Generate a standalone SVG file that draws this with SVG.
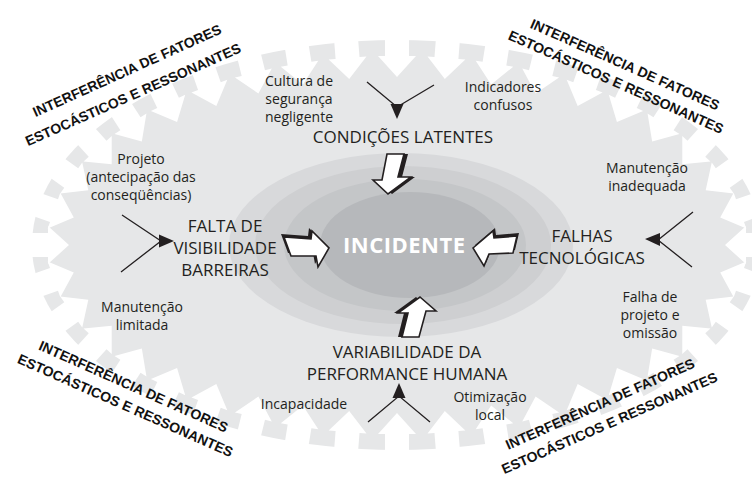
<svg xmlns="http://www.w3.org/2000/svg" xmlns:xlink="http://www.w3.org/1999/xlink" width="752" height="479" viewBox="0 0 752 479">
<defs>
<style>
.lbl{font-family:"Open Sans","DejaVu Sans",sans-serif;font-size:14px;fill:#231f20;text-anchor:middle}
.main{font-family:"Open Sans","DejaVu Sans",sans-serif;font-size:17px;font-weight:400;fill:#231f20;text-anchor:middle}
.corner{font-family:"Liberation Sans",Arial,sans-serif;font-size:14px;font-weight:700;fill:#111;text-anchor:middle}
.arm{stroke:#231f20;stroke-width:1.3;fill:none}
.head{fill:#231f20}
.blk{fill:#fff;stroke:#231f20;stroke-width:1.6;stroke-linejoin:miter}
.shd{fill:#231f20}
</style>
<path id="notch" d="M-12,-30 H12 V16 H19 L0,37 L-19,16 H-12 Z" fill="#fff"/>
</defs>
<rect width="752" height="479" fill="#fff"/>
<g id="gear">
<ellipse cx="397" cy="245" rx="365" ry="205" fill="#e6e7e8"/>
<use xlink:href="#notch" transform="translate(762,245) rotate(90)"/>
<use xlink:href="#notch" transform="translate(755.1,284.7) rotate(109.4)"/>
<use xlink:href="#notch" transform="translate(735.8,321.3) rotate(125.5)"/>
<use xlink:href="#notch" transform="translate(707.1,353.1) rotate(137.9)"/>
<use xlink:href="#notch" transform="translate(672.2,379.7) rotate(147.2)"/>
<use xlink:href="#notch" transform="translate(632.8,401.5) rotate(154.6)"/>
<use xlink:href="#notch" transform="translate(589.9,419) rotate(160.7)"/>
<use xlink:href="#notch" transform="translate(544.5,432.5) rotate(166.1)"/>
<use xlink:href="#notch" transform="translate(497,442.1) rotate(170.9)"/>
<use xlink:href="#notch" transform="translate(447.7,448) rotate(175.5)"/>
<use xlink:href="#notch" transform="translate(397,450) rotate(180)"/>
<use xlink:href="#notch" transform="translate(346.3,448) rotate(184.5)"/>
<use xlink:href="#notch" transform="translate(297,442.1) rotate(189.1)"/>
<use xlink:href="#notch" transform="translate(249.5,432.5) rotate(193.9)"/>
<use xlink:href="#notch" transform="translate(204.1,419) rotate(199.3)"/>
<use xlink:href="#notch" transform="translate(161.2,401.5) rotate(205.4)"/>
<use xlink:href="#notch" transform="translate(121.8,379.7) rotate(212.8)"/>
<use xlink:href="#notch" transform="translate(86.9,353.1) rotate(222.1)"/>
<use xlink:href="#notch" transform="translate(58.2,321.3) rotate(234.5)"/>
<use xlink:href="#notch" transform="translate(38.9,284.7) rotate(250.6)"/>
<use xlink:href="#notch" transform="translate(32,245) rotate(270)"/>
<use xlink:href="#notch" transform="translate(38.9,205.3) rotate(289.4)"/>
<use xlink:href="#notch" transform="translate(58.2,168.7) rotate(305.5)"/>
<use xlink:href="#notch" transform="translate(86.9,136.9) rotate(317.9)"/>
<use xlink:href="#notch" transform="translate(121.8,110.3) rotate(327.2)"/>
<use xlink:href="#notch" transform="translate(161.2,88.5) rotate(334.6)"/>
<use xlink:href="#notch" transform="translate(204.1,71) rotate(340.7)"/>
<use xlink:href="#notch" transform="translate(249.5,57.5) rotate(346.1)"/>
<use xlink:href="#notch" transform="translate(297,47.9) rotate(350.9)"/>
<use xlink:href="#notch" transform="translate(346.3,42) rotate(355.5)"/>
<use xlink:href="#notch" transform="translate(397,40) rotate(0)"/>
<use xlink:href="#notch" transform="translate(447.7,42) rotate(4.5)"/>
<use xlink:href="#notch" transform="translate(497,47.9) rotate(9.1)"/>
<use xlink:href="#notch" transform="translate(544.5,57.5) rotate(13.9)"/>
<use xlink:href="#notch" transform="translate(589.9,71) rotate(19.3)"/>
<use xlink:href="#notch" transform="translate(632.8,88.5) rotate(25.4)"/>
<use xlink:href="#notch" transform="translate(672.2,110.3) rotate(32.8)"/>
<use xlink:href="#notch" transform="translate(707.1,136.9) rotate(42.1)"/>
<use xlink:href="#notch" transform="translate(735.8,168.7) rotate(54.5)"/>
<use xlink:href="#notch" transform="translate(755.1,205.3) rotate(70.6)"/>
</g>
<g id="incidente">
<ellipse cx="401" cy="245" rx="172" ry="92" fill="#d8d9db"/>
<ellipse cx="403" cy="245" rx="148" ry="79" fill="#cecfd1"/>
<ellipse cx="405" cy="245" rx="121" ry="66" fill="#c4c6c8"/>
<ellipse cx="410" cy="245" rx="90" ry="53" fill="#b6b8bb"/>
<text x="404" y="253" textLength="122" style="font-family:'Open Sans','DejaVu Sans',sans-serif;font-size:22px;font-weight:700;fill:#fff;text-anchor:middle">INCIDENTE</text>
</g>
<g id="connectors">
<path class="arm" d="M367,82 L397,107 L434,85"/>
<polygon class="head" points="390.5,104 403.5,104 397,119"/>
<path class="arm" d="M122,215 L161,241 L121,272"/>
<polygon class="head" points="159,234.5 159,247.5 174,241"/>
<path class="arm" d="M693,212 L658,240 L692,267"/>
<polygon class="head" points="660,233 660,246 645,239"/>
<path class="arm" d="M368,422 L399,396 L430,422"/>
<polygon class="head" points="392.5,398 405.5,398 399,383"/>
<polygon class="shd" transform="translate(4,0)" points="387,154 404,154 398,177 411,177 388,194 373,180 382,180"/>
<polygon class="blk" points="387,154 404,154 398,177 411,177 388,194 373,180 382,180"/>
<polygon class="shd" transform="translate(-3,-3)" points="284,237 311,239 312,231 329,248 318,267 316,256 291,256"/>
<polygon class="blk" points="284,237 311,239 312,231 329,248 318,267 316,256 291,256"/>
<polygon class="shd" transform="translate(2,-3)" points="473,248 493,231 494,238 517,236 513,253 489,254 484,266"/>
<polygon class="blk" points="473,248 493,231 494,238 517,236 513,253 489,254 484,266"/>
<polygon class="shd" transform="translate(-4,0)" points="420,297 436,311 426,311 419,337 402,337 408,313 398,313"/>
<polygon class="blk" points="420,297 436,311 426,311 419,337 402,337 408,313 398,313"/>
</g>
<g id="condicoes">
<text class="main" x="403" y="143">CONDIÇÕES LATENTES</text>
</g>
<g id="falta">
<text class="main" x="225" y="232">FALTA DE</text>
<text class="main" x="225" y="254">VISIBILIDADE</text>
<text class="main" x="225" y="276">BARREIRAS</text>
</g>
<g id="falhas">
<text class="main" x="582" y="242">FALHAS</text>
<text class="main" x="582" y="264">TECNOLÓGICAS</text>
</g>
<g id="variabilidade">
<text class="main" x="407" y="358">VARIABILIDADE DA</text>
<text class="main" x="407" y="380">PERFORMANCE HUMANA</text>
</g>
<g id="cultura">
<text class="lbl" x="299" y="86">Cultura de</text>
<text class="lbl" x="299" y="104">segurança</text>
<text class="lbl" x="299" y="122">negligente</text>
</g>
<g id="indicadores">
<text class="lbl" x="503" y="92">Indicadores</text>
<text class="lbl" x="503" y="110">confusos</text>
</g>
<g id="projeto">
<text class="lbl" x="141" y="164">Projeto</text>
<text class="lbl" x="141" y="182">(antecipação das</text>
<text class="lbl" x="141" y="200">conseqüências)</text>
</g>
<g id="manutencao-limitada">
<text class="lbl" x="142" y="312">Manutenção</text>
<text class="lbl" x="142" y="330">limitada</text>
</g>
<g id="manutencao-inadequada">
<text class="lbl" x="647" y="173">Manutenção</text>
<text class="lbl" x="647" y="191">inadequada</text>
</g>
<g id="falha-projeto">
<text class="lbl" x="650" y="302">Falha de</text>
<text class="lbl" x="650" y="320">projeto e</text>
<text class="lbl" x="650" y="338">omissão</text>
</g>
<g id="incapacidade">
<text class="lbl" x="304" y="409">Incapacidade</text>
</g>
<g id="otimizacao">
<text class="lbl" x="490" y="402">Otimização</text>
<text class="lbl" x="490" y="420">local</text>
</g>
<g id="interferencia-tl">
<text class="corner" x="129" y="75" transform="rotate(-24.3 129 75)">INTERFERÊNCIA DE FATORES</text>
<text class="corner" x="135" y="99" transform="rotate(-23.8 135 99)">ESTOCÁSTICOS E RESSONANTES</text>
</g>
<g id="interferencia-tr">
<text class="corner" x="623" y="69" transform="rotate(23.9 623 69)">INTERFERÊNCIA DE FATORES</text>
<text class="corner" x="614" y="86.5" transform="rotate(24 614 86.5)">ESTOCÁSTICOS E RESSONANTES</text>
</g>
<g id="interferencia-bl">
<text class="corner" x="131.5" y="391" transform="rotate(24 131.5 391)">INTERFERÊNCIA DE FATORES</text>
<text class="corner" x="123.5" y="410" transform="rotate(23.9 123.5 410)">ESTOCÁSTICOS E RESSONANTES</text>
</g>
<g id="interferencia-br">
<text class="corner" x="602" y="408.5" transform="rotate(-23.9 602 408.5)">INTERFERÊNCIA DE FATORES</text>
<text class="corner" x="611.5" y="427.5" transform="rotate(-23.6 611.5 427.5)">ESTOCÁSTICOS E RESSONANTES</text>
</g>
</svg>
